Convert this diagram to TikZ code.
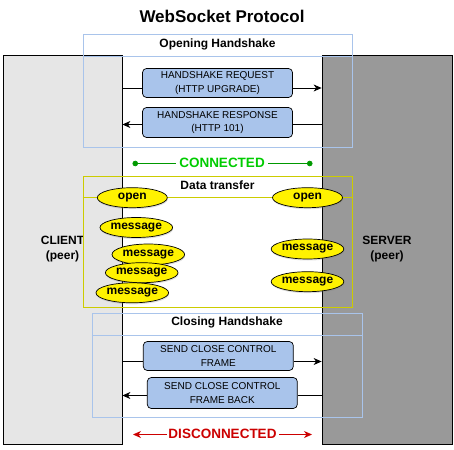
\documentclass[tikz,border=0pt]{standalone}
\usepackage{fontspec}
\setmainfont{Liberation Sans}
\usetikzlibrary{shapes.geometric,arrows.meta,shadows}
\definecolor{hsblue}{HTML}{A9C4EB}
\definecolor{peerlight}{HTML}{E6E6E6}
\definecolor{peerdark}{HTML}{999999}
\definecolor{datayellow}{HTML}{CCCC00}
\definecolor{okgreen}{HTML}{00CC00}
\definecolor{linegreen}{HTML}{009900}
\definecolor{offred}{HTML}{CC0000}
\begin{document}
\begin{tikzpicture}[x=1pt,y=-1pt,
    peer/.style={draw,line width=0.8pt,align=center,inner sep=0pt,
      font=\fontsize{12}{15}\selectfont\bfseries},
    phase/.style={draw,line width=0.8pt,inner sep=0pt},
    head/.style={font=\fontsize{12}{14}\selectfont\bfseries},
    frame/.style={draw,fill=hsblue,rounded corners=4pt,line width=0.7pt,
      minimum width=150pt,align=center,inner sep=0pt,
      font=\fontsize{10}{13.5}\selectfont},
    event/.style={ellipse,draw,fill=yellow,line width=0.7pt,inner sep=0pt,
      minimum width=70pt,minimum height=20pt,
      font=\fontsize{12}{14}\selectfont\bfseries,
      drop shadow={opacity=0.25,shadow xshift=0.5pt,shadow yshift=-1.5pt}},
    flow/.style={line width=0.8pt},
    tip/.style={-{Stealth[length=8pt,width=7pt,inset=2.5pt]}}]
    \useasboundingbox (0,0) rectangle (454,449);
    \node (title) at (222,16) {\fontsize{17}{20}\selectfont\bfseries WebSocket Protocol};
    \node[peer,fill=peerlight,minimum width=119pt,minimum height=389pt] (client) at (62.5,249.5) {CLIENT\\(peer)};
    \node[peer,fill=peerdark,minimum width=130pt,minimum height=389pt] (server) at (387,249.5) {SERVER\\(peer)};
    % opening handshake
    \node[phase,draw=hsblue,minimum width=269pt,minimum height=113pt] (opening) at (217.5,90.5) {};
    \draw[hsblue,line width=0.8pt] ([yshift=-23pt]opening.north west) -- ([yshift=-23pt]opening.north east);
    \node[head] (openingtitle) at ([yshift=-10.5pt]opening.north) {Opening Handshake};
    \node[frame,minimum height=29pt] (request) at (217.5,83) {HANDSHAKE REQUEST\\(HTTP UPGRADE)};
    \node[frame,minimum height=30pt] (response) at (217.5,122.5) {HANDSHAKE RESPONSE\\(HTTP 101)};
    \path[flow]
    (client.east |- 0,88) edge (request.west |- 0,88)
    (server.west |- 0,124.5) edge (response.east |- 0,124.5);
    \path[flow,tip]
    (request.east |- 0,88) edge (server.west |- 0,88)
    (response.west |- 0,124.5) edge (client.east |- 0,124.5);
    % connected
    \coordinate (connleft) at (132.5,163.5);
    \coordinate (connright) at (312.5,163.5);
    \draw[linegreen,line width=0.8pt,{Circle[length=5.5pt]}-{Circle[length=5.5pt]}] (connleft) -- (connright);
    \node[fill=white,inner xsep=3pt,inner ysep=0pt,text=okgreen,font=\fontsize{13.5}{15}\selectfont\bfseries] (connected) at (222,163) {CONNECTED};
    % data transfer
    \node[phase,draw=datayellow,minimum width=269pt,minimum height=131pt] (data) at (217.5,241.5) {};
    \draw[datayellow,line width=0.8pt] ([yshift=-21.5pt]data.north west) -- ([yshift=-21.5pt]data.north east);
    \node[head] (datatitle) at ([yshift=-9.5pt]data.north) {Data transfer};
    \node[event] (openc) at (132.3,197.7) {open};
    \node[event] (opens) at (307.5,197.7) {open};
    \node[event] (msgc1) at (136.3,227.5) {message};
    \node[event,minimum height=21pt] (msgc2) at (148.3,254.5) {message};
    \node[event] (msgc3) at (141.7,272.7) {message};
    \node[event] (msgc4) at (132.3,292.8) {message};
    \node[event] (msgs1) at (307.5,249) {message};
    \node[event] (msgs2) at (307.5,281.7) {message};
    % closing handshake
    \node[phase,draw=hsblue,minimum width=270pt,minimum height=104pt] (closing) at (227,365) {};
    \draw[hsblue,line width=0.8pt] ([yshift=-23pt]closing.north west) -- ([yshift=-23pt]closing.north east);
    \node[head] (closingtitle) at ([yshift=-10pt]closing.north) {Closing Handshake};
    \node[frame,minimum height=29pt] (close) at (218.3,356) {SEND CLOSE CONTROL\\FRAME};
    \node[frame,minimum height=31pt] (closeback) at (222.3,393) {SEND CLOSE CONTROL\\FRAME BACK};
    \path[flow]
    (client.east |- 0,361.5) edge (close.west |- 0,361.5)
    (server.west |- 0,395.5) edge (closeback.east |- 0,395.5);
    \path[flow,tip]
    (close.east |- 0,361.5) edge (server.west |- 0,361.5)
    (closeback.west |- 0,395.5) edge (client.east |- 0,395.5);
    % disconnected
    \coordinate (discleft) at (133,434.5);
    \coordinate (discright) at (312,434.5);
    \draw[offred,line width=0.8pt,{Stealth[length=8pt,width=7pt,inset=2.5pt]}-{Stealth[length=8pt,width=7pt,inset=2.5pt]}] (discleft) -- (discright);
    \node[fill=white,inner xsep=2pt,inner ysep=0pt,text=offred,font=\fontsize{13.5}{15}\selectfont\bfseries] (disconnected) at (222.5,434) {DISCONNECTED};
\end{tikzpicture}
\end{document}
